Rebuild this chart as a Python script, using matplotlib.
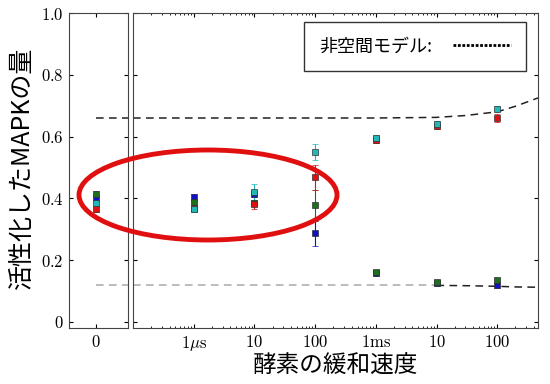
import numpy as np
import matplotlib.pyplot as plt
from matplotlib.patches import Ellipse
from matplotlib.lines import Line2D

plt.rcParams['mathtext.fontset'] = 'cm'
plt.rcParams['font.family'] = ['Noto Sans CJK JP', 'DejaVu Sans']

# enzyme relaxation time positions (seconds) and tick labels
x_pos = [1e-6, 1e-5, 1e-4, 1e-3, 1e-2, 1e-1]
x_labels = [r'$1\mu\mathrm{s}$', r'$10$', r'$100$', r'$1\mathrm{ms}$', r'$10$', r'$100$']

# first value = x=0 panel, rest = x_pos
blue = [0.400, 0.403, 0.413, 0.287, 0.158, 0.125, 0.118]
green = [0.413, 0.387, 0.385, 0.377, 0.160, 0.128, 0.135]
red = [0.365, 0.370, 0.380, 0.468, 0.590, 0.635, 0.660]
cyan = [0.384, 0.365, 0.420, 0.550, 0.595, 0.640, 0.690]
blue_err = [0.01, 0.012, 0.01, 0.04, 0.008, 0.008, 0.008]
green_err = [0.01, 0.01, 0.01, 0.05, 0.008, 0.008, 0.008]
red_err = [0.01, 0.015, 0.015, 0.04, 0.012, 0.01, 0.012]
cyan_err = [0.01, 0.01, 0.025, 0.025, 0.01, 0.01, 0.008]

# non-spatial model curves
model_x = [1e-7, 1e-3, 1e-2, 3e-2, 1e-1, 0.2, 0.47]
model_hi = [0.660, 0.660, 0.662, 0.668, 0.680, 0.698, 0.725]
model_lo_x = [1e-2, 3e-2, 1e-1, 0.2, 0.47]
model_lo = [0.118, 0.117, 0.115, 0.113, 0.112]
lo_ref = 0.118

series = [(blue, blue_err, '#1010c8'), (green, green_err, '#1d6e1d'),
          (red, red_err, '#e01010'), (cyan, cyan_err, '#22b8b8')]

fig = plt.figure(figsize=(5.5, 3.84), dpi=100)
ax0 = fig.add_axes([69/550, 56/384, 59/550, 315/384])
ax1 = fig.add_axes([133/550, 56/384, 405/550, 315/384])

dash = (0, (5, 3.5))
ax0.plot([0, 1.2], [model_hi[0]] * 2, color='#222222', ls=dash, lw=1.1)
ax0.plot([0, 1.2], [lo_ref] * 2, color='#aaaaaa', ls=dash, lw=1.1)
ax1.plot(model_x, model_hi, color='#222222', ls=dash, lw=1.1)
ax1.plot([1e-7, 1e-2], [lo_ref] * 2, color='#aaaaaa', ls=dash, lw=1.1)
ax1.plot(model_lo_x, model_lo, color='#222222', ls=dash, lw=1.1)

for vals, errs, c in series:
    ax0.errorbar([0], vals[:1], yerr=errs[:1], fmt='s', color=c, mec='#333333',
                 mew=0.5, ms=5, elinewidth=0.8, capsize=2)
    ax1.errorbar(x_pos, vals[1:], yerr=errs[1:], fmt='s', color=c, mec='#333333',
                 mew=0.5, ms=5, elinewidth=0.8, capsize=2)

for ax in (ax0, ax1):
    ax.set_ylim(-0.02, 1.0)
    ax.tick_params(direction='in', which='both', top=True, right=True,
                   length=3, labelsize=11, pad=4)
    ax.tick_params(which='minor', length=1.5)
    for s in ax.spines.values():
        s.set_color('#444444')

ax0.set_xlim(-0.92, 1.08)
ax0.set_xticks([0])
ax0.set_xticklabels([r'$0$'], fontsize=12)
ax0.set_yticks([0, 0.2, 0.4, 0.6, 0.8, 1.0])
ax0.set_yticklabels([r'$0$', r'$0.2$', r'$0.4$', r'$0.6$', r'$0.8$', r'$1.0$'], fontsize=12)

ax1.set_xscale('log')
ax1.set_xlim(1e-7, 0.47)
ax1.set_xticks(x_pos)
ax1.set_xticklabels(x_labels, fontsize=12)
ax1.set_yticks([0, 0.2, 0.4, 0.6, 0.8, 1.0])
ax1.set_yticklabels([])

handle = Line2D([], [], color='black', ls=(0, (1, 0.6)), lw=2)
leg = ax1.legend([handle], ['非空間モデル:'], loc='upper right', fontsize=13,
                 markerfirst=False, fancybox=False, handlelength=3.2,
                 handletextpad=1.1, borderpad=0.85, borderaxespad=0,
                 bbox_to_anchor=(0.97, 0.97))
leg.get_frame().set_edgecolor('black')
leg.get_frame().set_linewidth(1)

fig.text(22/550, 1 - 168/384, '活性化したMAPKの量', rotation=90, fontsize=18,
         ha='center', va='center')
fig.text(335/550, 1 - 366/384, '酵素の緩和速度', fontsize=17, ha='center', va='center')

ell = Ellipse((208/550, 1 - 195/384), 258/550, 90/384, transform=fig.transFigure,
              fill=False, edgecolor='#e01010', lw=3.5)
fig.add_artist(ell)

fig.savefig('out.png', dpi=100)
